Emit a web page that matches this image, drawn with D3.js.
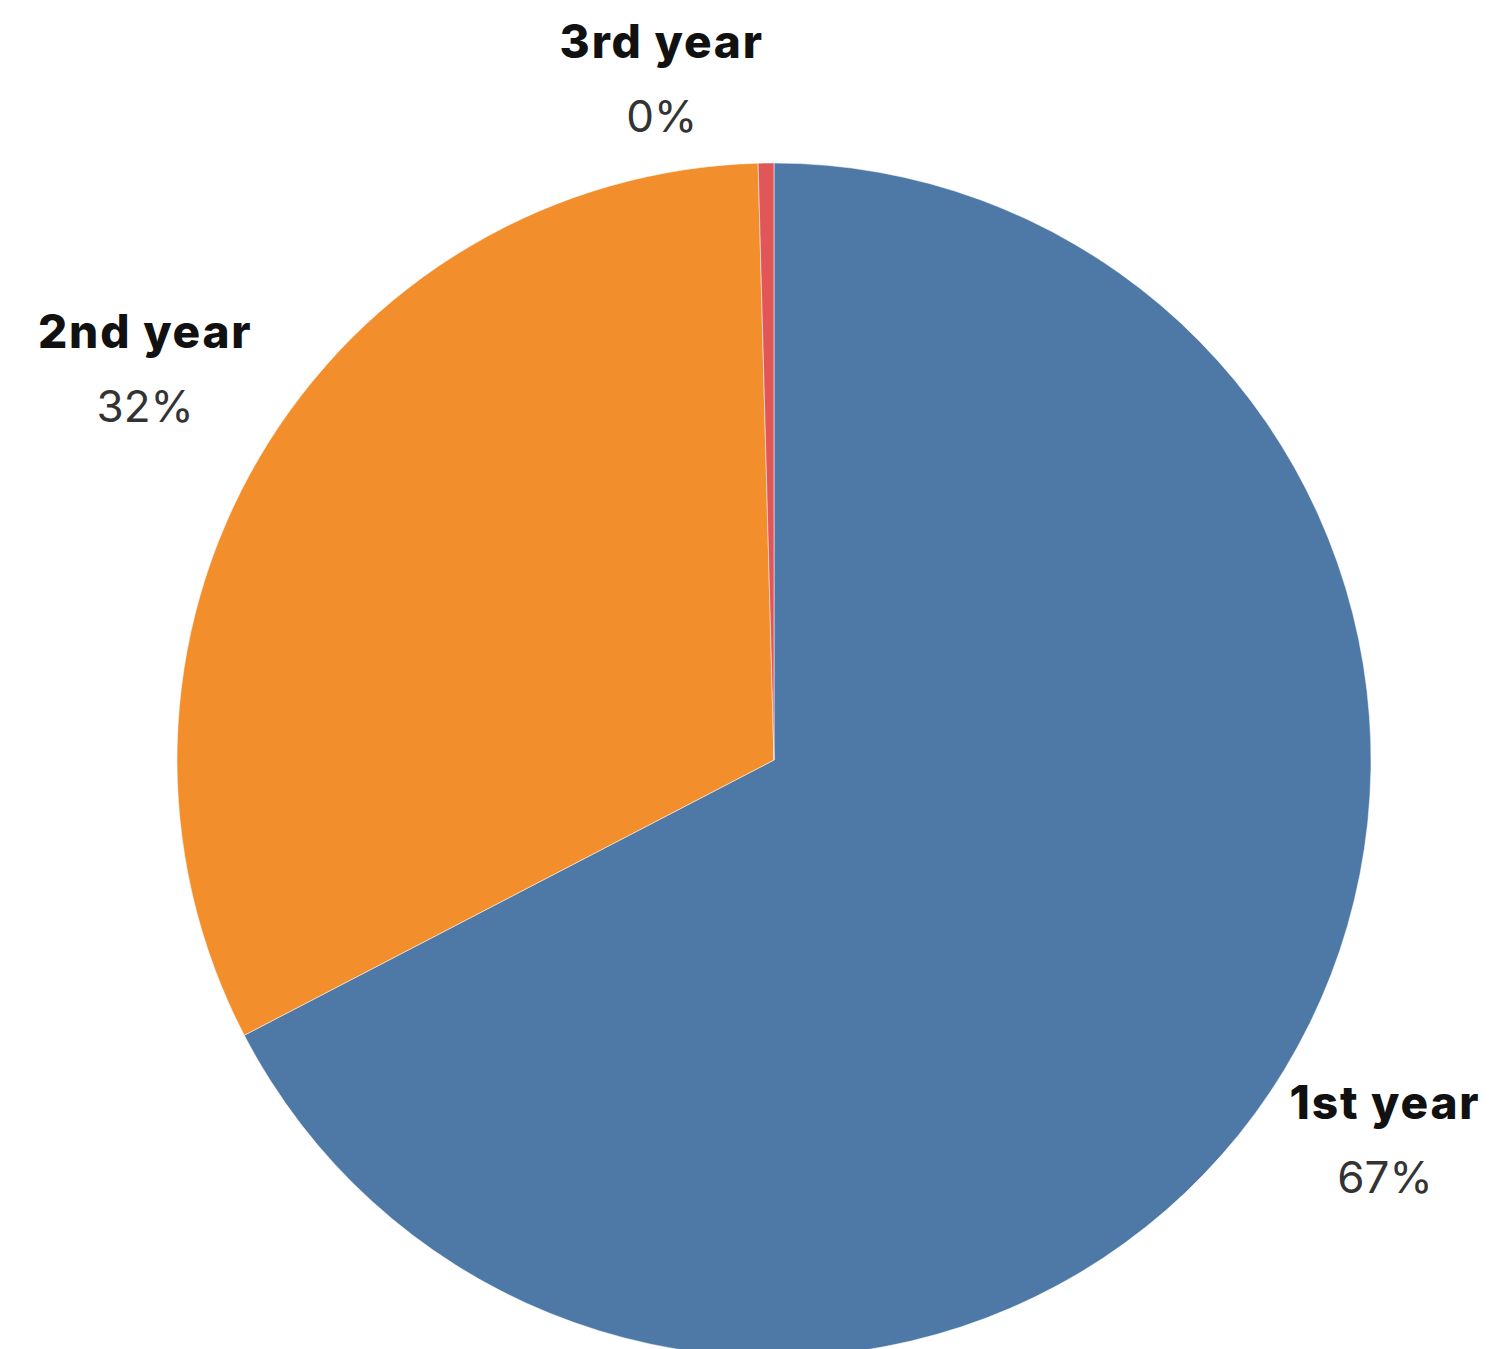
<!DOCTYPE html>
<html>
<head>
<meta charset="utf-8">
<script src="https://cdn.jsdelivr.net/npm/d3@7"></script>
<style>
  html, body { margin: 0; padding: 0; background: #ffffff; }
  svg { display: block; }
</style>
</head>
<body>
<svg id="chart" width="1495" height="1349"></svg>
<script>
// Respondents by year of study
const categories = ["1st year", "2nd year", "3rd year"];
const counts = [159, 76, 1];
const colors = ["#4e79a7", "#f28e2b", "#e15759"];

const width = 1495, height = 1349;
const cx = 774, cy = 760, radius = 597;

const svg = d3.select("#chart");
svg.append("rect").attr("width", width).attr("height", height).attr("fill", "#ffffff");

const total = d3.sum(counts);
const rows = categories.map((c, i) => ({ name: c, value: counts[i], color: colors[i] }));

const pie = d3.pie().value(d => d.value).sort(null);
const arc = d3.arc().innerRadius(0).outerRadius(radius);
const arcs = pie(rows);

const g = svg.append("g").attr("transform", `translate(${cx},${cy})`);

g.selectAll("path.slice")
  .data(arcs)
  .join("path")
  .attr("class", "slice")
  .attr("d", arc)
  .attr("fill", d => d.data.color)
  .attr("stroke", "#ffffff")
  .attr("stroke-opacity", 0.5)
  .attr("stroke-width", 1);

// Outside labels: placed along each slice's mid-angle, then nudged clear of the rim
const labelRadius = radius * 1.17;
const nudge = {
  "1st year": [14, -4],
  "2nd year": [-27, -57],
  "3rd year": [-103, -4]
};
const pctFmt = v => Math.round(v / total * 100) + "%";

const labels = g.selectAll("g.label")
  .data(arcs)
  .join("g")
  .attr("class", "label")
  .attr("transform", d => {
    const a = (d.startAngle + d.endAngle) / 2;
    const [nx, ny] = nudge[d.data.name];
    return `translate(${Math.sin(a) * labelRadius + nx},${-Math.cos(a) * labelRadius + ny})`;
  });

labels.append("text")
  .attr("text-anchor", "middle")
  .attr("font-family", "Inter, 'Open Sans', sans-serif")
  .attr("font-weight", 800)
  .attr("font-size", 46)
  .attr("letter-spacing", 1.8)
  .attr("fill", "#111111")
  .text(d => d.data.name);

labels.append("text")
  .attr("text-anchor", "middle")
  .attr("y", 74)
  .attr("font-family", "Inter, 'Open Sans', sans-serif")
  .attr("font-weight", 400)
  .attr("font-size", 44)
  .attr("fill", "#333333")
  .text(d => pctFmt(d.data.value));
</script>
</body>
</html>
